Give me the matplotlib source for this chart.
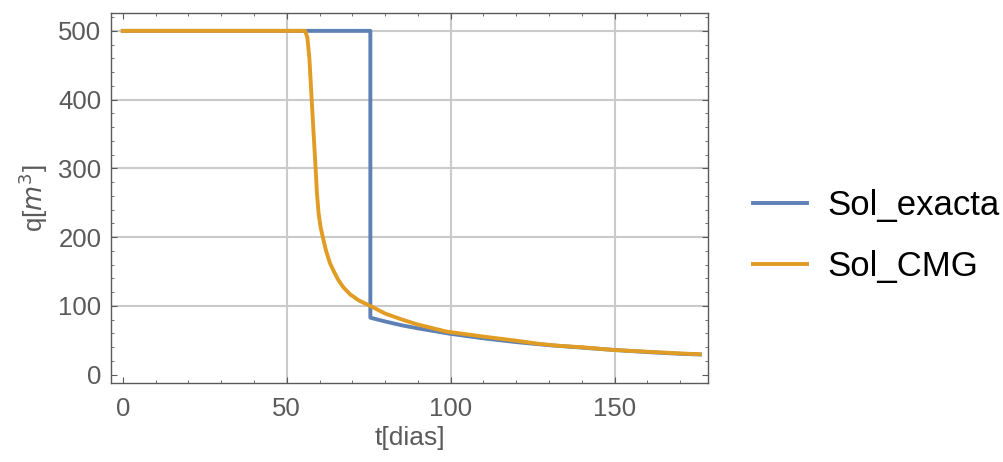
import matplotlib.pyplot as plt
from matplotlib.ticker import MultipleLocator

# exact solution: constant rate, then a sudden drop and slow decline
t_exacta = [0, 75.5, 75.5, 80, 85, 90, 100, 110, 120, 130, 140, 150, 160, 170, 176]
q_exacta = [500, 500, 83, 77.5, 72, 67.5, 59.5, 53, 47.5, 43, 39.5, 36, 33, 30.5, 29.5]

# simulator (CMG) result
t_cmg = [0, 55.6, 56.3, 56.9, 57.6, 58.2, 58.8, 59.2, 59.7, 60.3, 61.0, 62.0, 63.2,
         64.5, 65.7, 67.3, 69.3, 72.0, 75.5, 80, 85.5, 90, 98.8, 110, 120, 127.2,
         133.3, 140, 149.8, 160, 170, 176]
q_cmg = [500, 500, 490, 460, 400, 350, 300, 265, 235, 215, 200, 180, 162,
         149, 138, 127, 117, 108, 100, 89, 79.7, 73, 62.7, 55.5, 49.5, 44.8,
         42, 40, 36, 33.5, 31, 29.8]

blue = '#5e81b5'
orange = '#e19c24'
gray = '#5a5a5a'

plt.rcParams['font.family'] = ['Liberation Sans', 'DejaVu Sans']

fig = plt.figure(figsize=(10.04, 4.62), dpi=100)
ax = fig.add_axes([0.1106, 0.1717, 0.5946, 0.8002])

ax.plot(t_exacta, q_exacta, color=blue, linewidth=2.8, label='Sol_exacta', zorder=3)
ax.plot(t_cmg, q_cmg, color=orange, linewidth=2.8, label='Sol_CMG', zorder=4)

ax.set_xlim(-3.6, 178.5)
ax.set_ylim(-11.5, 526)

ax.xaxis.set_major_locator(MultipleLocator(50))
ax.xaxis.set_minor_locator(MultipleLocator(10))
ax.yaxis.set_major_locator(MultipleLocator(100))
ax.yaxis.set_minor_locator(MultipleLocator(20))

for x in [50, 100, 150]:
    ax.axvline(x, color='#cacaca', linewidth=1.5, zorder=1)
for y in [100, 200, 300, 400, 500]:
    ax.axhline(y, color='#cacaca', linewidth=1.5, zorder=1)

ax.tick_params(which='both', direction='in', top=True, right=True, color=gray,
               labelcolor=gray, labelsize=18.5)
ax.tick_params(which='major', length=4, width=0.8)
ax.tick_params(which='minor', length=2, width=0.6)
ax.tick_params(axis='x', pad=10)
ax.tick_params(axis='y', pad=7)
for side in ax.spines.values():
    side.set_color(gray)
    side.set_linewidth(1.0)

ax.set_xlabel('t[dias]', fontsize=19, color=gray, labelpad=4)
ax.set_ylabel('q[$m^3$]', fontsize=18.5, color=gray, labelpad=6)

fig.legend(loc='center left', bbox_to_anchor=(0.75, 0.489), frameon=False,
           fontsize=25, handlelength=1.55, handletextpad=0.6, labelspacing=0.8,
           borderpad=0, borderaxespad=0)

fig.savefig('out.png', dpi=100)
